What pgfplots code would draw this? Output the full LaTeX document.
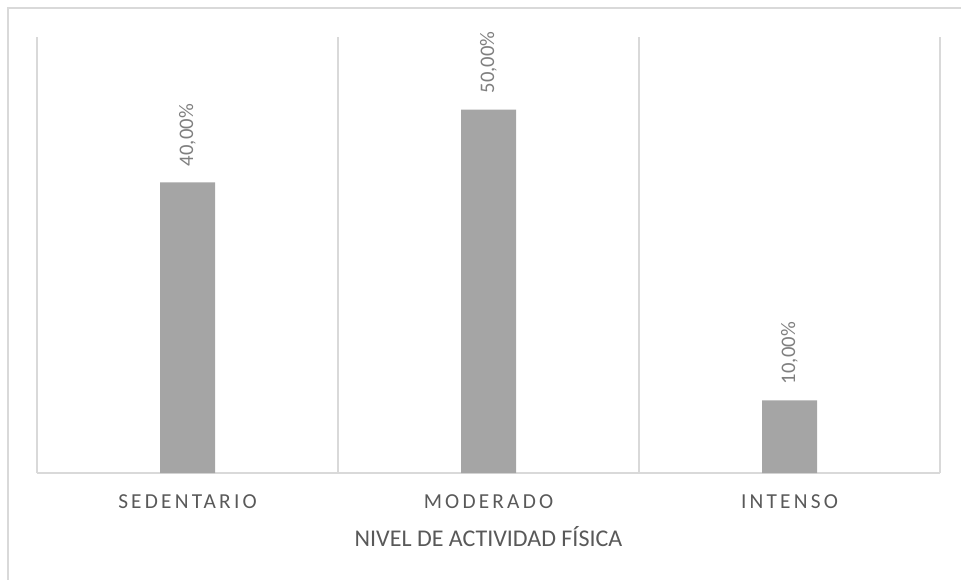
\documentclass[border=0pt]{standalone}
\usepackage{pgfplots}
\pgfplotsset{compat=1.18}
\usepackage{fontspec}
\setmainfont{Carlito}
\newfontfamily\spacedfont[LetterSpace=15]{Carlito}

\definecolor{barfill}{HTML}{A5A5A5}
\definecolor{gridc}{HTML}{D9D9D9}
\definecolor{txt}{HTML}{595959}
\definecolor{lbl}{HTML}{7F7F7F}

\begin{document}
\begin{tikzpicture}
% page frame: 961 x 579 px at 0.75pt per px
\path[use as bounding box] (0,0) rectangle (720.75pt,434.25pt);
\draw[gridc, line width=1.1pt] (6pt,-10pt) -- (6pt,428.25pt) -- (740pt,428.25pt);

\begin{axis}[
  at={(27.75pt,79.5pt)}, anchor=south west,
  scale only axis,
  width=677.25pt, height=327pt,
  ymin=0, ymax=60,
  xmin=-0.5, xmax=2.5,
  ybar, bar width=41.25pt,
  axis x line=bottom, axis y line=none,
  x axis line style={-, gridc, line width=1pt},
  xtick={0,1,2},
  xticklabels={SEDENTARIO, MODERADO, INTENSO},
  major tick length=0pt,
  minor xtick={-0.5,0.5,1.5,2.5},
  minor tick length=0pt,
  xminorgrids=true,
  minor grid style={gridc, line width=1pt},
  ytick=\empty,
  xticklabel style={font=\spacedfont\fontsize{16}{19}\selectfont, text=txt, yshift=-13pt},
  xlabel={NIVEL DE ACTIVIDAD FÍSICA},
  xlabel style={font=\fontsize{18}{21}\selectfont, text=txt, yshift=-6pt},
  nodes near coords={\pgfmathprintnumber[fixed,fixed zerofill,precision=2,use comma,assume math mode=true]{\pgfplotspointmeta}\%},
  every node near coord/.append style={font=\fontsize{15.5}{18}\selectfont, text=lbl, rotate=90, anchor=west, inner sep=0pt, xshift=12pt},
  clip=false,
]
\addplot[fill=barfill, draw=none] coordinates {(0,40) (1,50) (2,10)};
\end{axis}
\end{tikzpicture}
\end{document}
